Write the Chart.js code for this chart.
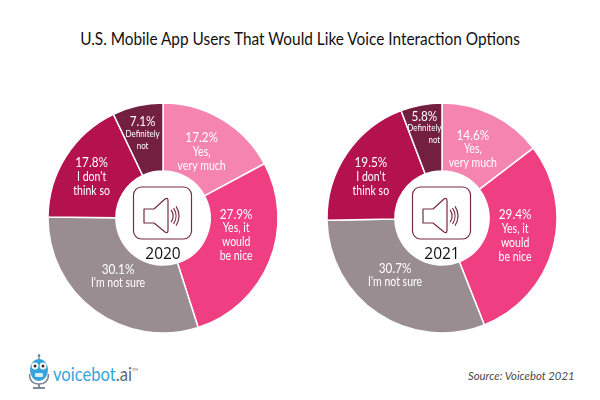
<!DOCTYPE html>
<html lang="en">
<head>
<meta charset="UTF-8">
<title>Voice Interaction Options</title>
<script src="https://cdn.jsdelivr.net/npm/chart.js"></script>
<style>
  html, body { margin: 0; padding: 0; background: #fff; }
  body { width: 600px; height: 400px; position: relative; overflow: hidden; font-family: Lato, sans-serif; }
  h1 { position: absolute; top: 28px; left: 0; width: 600px; margin: 0; text-align: center; font: 400 17px Lato, sans-serif; color: #111; transform: scaleX(0.905); }
  canvas { position: absolute; top: 100px; }
  #source { position: absolute; left: 468px; top: 369px; font: italic 400 11.3px Lato, sans-serif; color: #4a4a4a; }
  #logo { position: absolute; left: 24px; top: 348px; }
</style>
</head>
<body>
<h1>U.S. Mobile App Users That Would Like Voice Interaction Options</h1>
<canvas id="chart2020" width="236" height="236" style="left:45px"></canvas>
<canvas id="chart2021" width="236" height="236" style="left:324px"></canvas>
<div id="source">Source: Voicebot 2021</div>
<svg id="logo" width="125" height="46" viewBox="0 0 125 46">
  <circle cx="15" cy="7.5" r="1.3" fill="#5b7f99"/>
  <path d="M15 8v4" stroke="#5b7f99" stroke-width="1.2"/>
  <ellipse cx="15" cy="22" rx="9" ry="11" fill="#35a3dc"/>
  <circle cx="11" cy="18" r="3.4" fill="#fff"/><circle cx="19" cy="18" r="3.4" fill="#fff"/>
  <circle cx="11" cy="18" r="1.5" fill="#333"/><circle cx="19" cy="18" r="1.5" fill="#333"/>
  <rect x="11" y="25" width="8" height="4" rx="1" fill="#d8eef9"/>
  <path d="M5.5 26c0 8 4.500 10 9.500 10s9.500-2 9.500-10" fill="none" stroke="#7d8c98" stroke-width="1.5"/>
  <path d="M15 36v3M9 40h12" stroke="#7d8c98" stroke-width="2"/>
  <text x="29" y="33" font-family="Lato, sans-serif" font-size="20" font-weight="400" fill="#35a3dc" textLength="79" lengthAdjust="spacingAndGlyphs">voicebot<tspan fill="#5c6a75">.ai</tspan></text>
  <text x="108" y="23" font-family="Lato, sans-serif" font-size="4" fill="#5c6a75">TM</text>
</svg>

<script>
const categories = [
  ['Yes,', 'very much'],
  ['Yes, it', 'would', 'be nice'],
  ["I'm not sure"],
  ["I don't", 'think so'],
  ['Definitely', 'not']
];
const values2020 = [17.2, 27.9, 30.1, 17.8, 7.1];
const values2021 = [14.6, 29.4, 30.7, 19.5, 5.8];
const sliceColors = ['#f585b0', '#ef3e82', '#9a8d91', '#b3124f', '#731f3f'];

// hand nudges from the middle of each slice to where the label sits
// (third number shifts the last line sideways, the 2021 "not" hangs right)
const nudges2020 = [[-3, 3], [-2, -13], [3, -7], [-3, 2], [-2.5, -5]];
const nudges2021 = [[-5, 4], [-5, -4], [-2, -10], [-4, 4], [-3, -10, 10]];

const labelPlugin = {
  id: 'sliceLabels',
  afterDatasetsDraw(chart, args, opts) {
    const ctx = chart.ctx;
    const arcs = chart.getDatasetMeta(0).data;
    const squeezed = (text, x, y) => {
      ctx.save();
      ctx.translate(x, y);
      ctx.scale(0.84, 1);
      ctx.fillText(text, 0, 0);
      ctx.restore();
    };
    ctx.save();
    ctx.textAlign = 'center';
    ctx.textBaseline = 'middle';
    ctx.fillStyle = '#fff';
    arcs.forEach((arc, i) => {
      const p = arc.tooltipPosition();
      const n = opts.nudges[i];
      const x = p.x + n[0];
      const y = p.y + n[1];
      const small = i === 4;
      const lines = categories[i];
      const step = small ? 12 : 14;
      const top = y - (lines.length * step) / 2;
      ctx.font = '400 14px Lato, sans-serif';
      squeezed(chart.data.datasets[0].data[i].toFixed(1) + '%', x, top);
      ctx.font = '400 ' + (small ? '9.5px' : '12.5px') + ' Lato, sans-serif';
      lines.forEach((line, j) => {
        const shift = j === lines.length - 1 && n[2] ? n[2] : 0;
        squeezed(line, x + shift, top + (j + 1) * step);
      });
    });
    ctx.restore();
  }
};

const centerPlugin = {
  id: 'speakerIcon',
  afterDatasetsDraw(chart, args, opts) {
    const ctx = chart.ctx;
    const arc = chart.getDatasetMeta(0).data[0];
    const cx = arc.x, cy = arc.y;
    ctx.save();
    ctx.strokeStyle = '#7a2a45';
    ctx.lineWidth = 1.2;
    ctx.lineJoin = 'round';
    ctx.beginPath();
    ctx.roundRect(cx - 29.5, cy - 31, 58, 52, 8);
    ctx.stroke();
    ctx.beginPath();
    ctx.moveTo(cx - 19, cy - 9);
    ctx.lineTo(cx - 9, cy - 9);
    ctx.lineTo(cx + 2, cy - 19);
    ctx.quadraticCurveTo(cx + 5, cy - 21, cx + 5, cy - 17);
    ctx.lineTo(cx + 5, cy + 12);
    ctx.quadraticCurveTo(cx + 5, cy + 16, cx + 2, cy + 14);
    ctx.lineTo(cx - 9, cy + 5);
    ctx.lineTo(cx - 19, cy + 5);
    ctx.closePath();
    ctx.stroke();
    [11, 14, 17].forEach(r => {
      ctx.beginPath();
      ctx.arc(cx - 1, cy - 2, r, -0.6, 0.6);
      ctx.stroke();
    });
    ctx.fillStyle = '#111';
    ctx.font = '500 15.5px "Open Sans", sans-serif';
    ctx.textAlign = 'center';
    ctx.textBaseline = 'middle';
    ctx.fillText(opts.year, cx, cy + 37);
    ctx.restore();
  }
};

function makeDonut(id, values, nudges, year) {
  return new Chart(document.getElementById(id), {
    type: 'doughnut',
    data: {
      labels: categories.map(c => c.join(' ')),
      datasets: [{
        data: values,
        backgroundColor: sliceColors,
        borderColor: '#fff',
        borderWidth: 1.5,
        borderAlign: 'center'
      }]
    },
    options: {
      responsive: false,
      animation: false,
      radius: 115,
      cutout: 48,
      plugins: {
        legend: { display: false },
        tooltip: { enabled: false },
        sliceLabels: { nudges: nudges },
        speakerIcon: { year: year }
      }
    },
    plugins: [labelPlugin, centerPlugin]
  });
}

makeDonut('chart2020', values2020, nudges2020, '2020');
makeDonut('chart2021', values2021, nudges2021, '2021');
</script>
</body>
</html>
